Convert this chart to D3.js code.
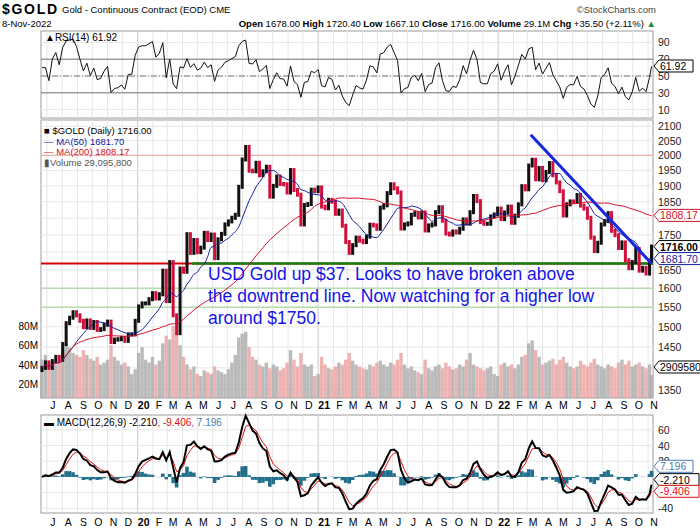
<!DOCTYPE html>
<html><head><meta charset="utf-8">
<script src="https://cdn.jsdelivr.net/npm/d3@7"></script>
<style>
body{margin:0;background:#fff;font-family:Arial,"Liberation Sans",sans-serif}
text{font-family:Arial,"Liberation Sans",sans-serif}
</style></head><body><div id="chart"></div>
<script>
// weekly closes (continuous contract), from 21-Jun-2019, last one 8-Nov-2022
var close2019=[1400,1413,1400,1416,1426,1419,1457,1509,1523,1537,1529,1515,1499,1516,1497,1512,1492,1494,1505,1513,1462,1468,1469,1472,1465,1481,1481,1515];
var close2020=[1552,1560,1560,1571,1587,1573,1584,1648,1566,1672,1529,1484,1654,1645,1752,1698,1735,1700,1713,1756,1735,1751,1683,1737,1753,1781,1790,1801,1810,1897,1986,2028,1949,1947,1975,1934,1947,1962,1866,1900,1930,1906,1905,1879,1951,1887,1872,1781,1840,1843,1888,1883];
var close2021=[1895,1835,1830,1856,1850,1813,1823,1777,1729,1698,1720,1742,1733,1729,1745,1780,1778,1768,1832,1839,1877,1905,1892,1879,1769,1781,1784,1810,1815,1802,1817,1763,1778,1781,1818,1833,1792,1754,1751,1760,1757,1768,1796,1783,1818,1868,1852,1788,1783,1783,1805,1811,1829];
var close2022=[1797,1817,1835,1786,1807,1842,1899,1889,1966,1985,1921,1958,1918,1945,1974,1934,1911,1883,1808,1842,1851,1850,1871,1838,1829,1801,1742,1703,1727,1781,1791,1815,1762,1749,1712,1728,1677,1655,1672,1709,1648,1656,1640,1676,1716];
// weekly volume, millions
var vol2019=[45,50,42,38,40,44,55,62,58,52,50,48,55,50,46,44,48,40,42,45,60,48,44,40,42,38,30,35];
var vol2020=[52,58,45,42,48,40,44,62,70,66,80,72,60,48,40,35,38,30,28,34,32,30,38,34,32,30,35,42,50,68,72,74,58,48,45,40,38,42,36,40,38,34,36,42,55,45,38,52,40,38,40,28];
var vol2021=[30,48,40,36,35,38,42,40,45,52,44,40,38,36,35,40,38,42,44,40,38,42,40,45,52,40,36,38,34,32,30,45,36,34,38,40,36,42,38,35,36,40,38,45,52,40,38,36,34,36,38,30,28];
var vol2022=[40,42,38,40,36,40,48,50,62,65,55,48,40,42,44,46,40,45,48,42,38,36,38,44,40,38,42,46,40,38,36,40,38,36,42,45,40,44,38,40,42,38,36,40,29];
var priceTicks=[1350,1400,1450,1500,1550,1600,1650,1700,1750,1800,1850,1900,1950,2000,2050,2100];
var rsiTicks=[10,30,50,70,90];
var macdTicks=[-40,-20,20,40,60];
var volTicks=[20,40,60,80];
var trendLine=[{d:"2022-03-08",p:2070},{d:"2022-11-08",p:1668}];
var note=["USD Gold up $37. Looks to have broken above","the downtrend line. Now watching for a higher low","around $1750."];

var closes=close2019.concat(close2020,close2021,close2022);
var vols=vol2019.concat(vol2020,vol2021,vol2022);
var start=new Date(2019,5,21);
var n=closes.length;
var data=closes.map(function(c,i){
  return {date:i==n-1?new Date(2022,10,8):d3.timeDay.offset(start,7*i),
    open:i?closes[i-1]:1395,close:c,vol:vols[i]};
});
function sma(k){return closes.map(function(c,i){var s=closes.slice(Math.max(0,i-k+1),i+1);return d3.mean(s);});}
function ema(arr,k){var a=2/(k+1),e=arr[0];return arr.map(function(v){e=a*v+(1-a)*e;return e;});}
var ma50=sma(10),ma200=sma(40);
// rsi on weekly bars
var rsi=[],g=0,l=0;
closes.forEach(function(c,i){
  var ch=i?c-closes[i-1]:0,a=1/5;
  g=(1-a)*g+a*Math.max(ch,0);l=(1-a)*l+a*Math.max(-ch,0);
  rsi.push(i<2?60:100-100/(1+g/(l||1e-6)));
});
var e1=ema(closes,5),e2=ema(closes,11);
var macd=e1.map(function(v,i){return v-e2[i];});
var sig=ema(macd,3);

var W=700,H=530,L=41,R=653;
var svg=d3.select('#chart').append('svg').attr('width',W).attr('height',H);
var x=d3.scaleTime().domain([new Date(2019,5,19),new Date(2022,10,11)]).range([L,R]);
var months=d3.timeMonth.range(new Date(2019,6,1),new Date(2022,10,2));

function panel(t,b){
  svg.append('rect').attr('x',L).attr('y',t).attr('width',R-L).attr('height',b-t)
    .attr('fill','#fff').attr('stroke','#999');
  svg.append('g').selectAll('line').data(months).enter().append('line')
    .attr('x1',function(d){return x(d)}).attr('x2',function(d){return x(d)})
    .attr('y1',t).attr('y2',b).attr('stroke',function(d){return d.getMonth()==0?'#c8c8c8':'#e6e6e6'});
}
function hgrid(ticks,sc){
  ticks.forEach(function(t){
    svg.append('line').attr('x1',L).attr('x2',R).attr('y1',sc(t)).attr('y2',sc(t)).attr('stroke','#e6e6e6');
    svg.append('text').attr('x',R+5).attr('y',sc(t)+4).attr('font-size',10.5).attr('fill','#222').text(t);
  });
}
function tag(yy,txt,col,bold){
  var gg=svg.append('g');
  var w=txt.length*6+4;
  gg.append('path').attr('d','M'+(R+1)+','+yy+' l5,-6 h'+w+' v12 h-'+w+' z').attr('fill','#fff').attr('stroke',col);
  gg.append('text').attr('x',R+7).attr('y',yy+4).attr('font-size',10.5).attr('fill',col)
    .attr('font-weight',bold?'bold':'normal').text(txt);
}
function monthAxis(yy){
  svg.append('g').selectAll('text').data(months).enter().append('text')
    .attr('x',function(d){return x(d)+6}).attr('y',yy).attr('text-anchor','middle')
    .attr('font-size',10.5).attr('font-weight',function(d){return d.getMonth()==0?'bold':'normal'})
    .text(function(d){return d.getMonth()==0?d3.timeFormat('%y')(d):d3.timeFormat('%b')(d)[0];});
}

// header
svg.append('text').attr('x',2).attr('y',14).attr('font-size',14).attr('font-weight','bold').attr('textLength',55).text('$GOLD');
svg.append('text').attr('x',62).attr('y',13).attr('font-size',9.5).text('Gold - Continuous Contract (EOD) CME');
svg.append('text').attr('x',656).attr('y',13).attr('font-size',9.5).attr('text-anchor','end').attr('fill','#444').text('©StockCharts.com');
svg.append('text').attr('x',2).attr('y',27).attr('font-size',9.5).text('8-Nov-2022');
var hd=svg.append('text').attr('x',656).attr('y',27).attr('font-size',9.5).attr('text-anchor','end');
[['Open',' 1678.00 '],['High',' 1720.40 '],['Low',' 1667.10 '],['Close',' 1716.00 '],['Volume',' 29.1M '],['Chg',' +35.50 (+2.11%) ']].forEach(function(p){
  hd.append('tspan').attr('font-weight','bold').text(p[0]);hd.append('tspan').attr('xml:space','preserve').text(p[1]);
});
hd.append('tspan').attr('fill','#2a8a2a').text('▲');

// RSI panel
var yr=d3.scaleLinear().domain([0,100]).range([118,34]);
panel(31,118);
hgrid(rsiTicks,yr);
svg.append('line').attr('x1',L).attr('x2',R).attr('y1',yr(70)).attr('y2',yr(70)).attr('stroke','#777');
svg.append('line').attr('x1',L).attr('x2',R).attr('y1',yr(30)).attr('y2',yr(30)).attr('stroke','#777');
svg.append('line').attr('x1',L).attr('x2',R).attr('y1',yr(50)).attr('y2',yr(50)).attr('stroke','#777').attr('stroke-dasharray','6,2,1,2');
svg.append('path').datum(rsi).attr('fill','none').attr('stroke','#111').attr('stroke-width',1)
  .attr('d',d3.line().x(function(d,i){return x(data[i].date)}).y(function(d){return yr(d)}));
svg.append('text').attr('x',45).attr('y',41).attr('font-size',10).text('▲RSI(14) 61.92');
tag(yr(61.92),'61.92','#000');

// main panel
var pTop=120,pBot=398;
var y=d3.scaleLog().domain([1331,2122]).range([pBot,pTop]);
panel(pTop,pBot);
hgrid(priceTicks,y);
var yv=d3.scaleLinear().domain([0,80]).range([403,326]);
svg.append('g').selectAll('rect').data(data).enter().append('rect')
  .attr('x',function(d){return x(d.date)-1.7}).attr('width',3.4)
  .attr('y',function(d){return yv(d.vol)}).attr('height',function(d){return pBot-yv(d.vol)})
  .attr('fill',function(d){return d.close>=d.open?'#aaa':'#e8a0a0'}).attr('opacity',0.8);
volTicks.forEach(function(t){svg.append('text').attr('x',38).attr('y',yv(t)+4).attr('text-anchor','end').attr('font-size',10).text(t+'M');});
// horizontal levels
[[2000,'#f0a0a0',1],[1600,'#b7dcb0',1.5],[1550,'#b7dcb0',1.5]].forEach(function(h){
  svg.append('line').attr('x1',L).attr('x2',R).attr('y1',y(h[0])).attr('y2',y(h[0])).attr('stroke',h[1]).attr('stroke-width',h[2]);
});
svg.append('line').attr('x1',L).attr('x2',R).attr('y1',y(1668)).attr('y2',y(1668)).attr('stroke','#d40000').attr('stroke-width',2);
svg.append('line').attr('x1',x(new Date(2020,3,20))).attr('x2',R).attr('y1',y(1668)).attr('y2',y(1668)).attr('stroke','#158015').attr('stroke-width',2.5);
// price bars
svg.append('g').selectAll('rect').data(data).enter().append('rect')
  .attr('x',function(d){return x(d.date)-1.5}).attr('width',3)
  .attr('y',function(d){return y(Math.max(d.open,d.close))-2})
  .attr('height',function(d){return Math.abs(y(d.open)-y(d.close))+4})
  .attr('fill',function(d){return d.close>=d.open?'#111':'#d0103a'});
var lx=function(d,i){return x(data[i].date)};
svg.append('path').datum(ma50).attr('fill','none').attr('stroke','#1020a0').attr('stroke-width',1)
  .attr('d',d3.line().x(lx).y(function(d){return y(d)}).curve(d3.curveMonotoneX));
svg.append('path').datum(ma200).attr('fill','none').attr('stroke','#d4102a').attr('stroke-width',1)
  .attr('d',d3.line().x(lx).y(function(d){return y(d)}).curve(d3.curveMonotoneX));
svg.append('line').attr('x1',x(new Date(trendLine[0].d))).attr('y1',y(trendLine[0].p))
  .attr('x2',x(new Date(trendLine[1].d))).attr('y2',y(trendLine[1].p)).attr('stroke','#1428e0').attr('stroke-width',3);
note.forEach(function(t,i){
  svg.append('text').attr('x',208).attr('y',280+i*22).attr('font-size',17.5).attr('fill','#1414e6').text(t);
});
// legend
var lg=[['■ $GOLD (Daily) 1716.00','#000'],['— MA(50) 1681.70','#1020a0'],['— MA(200) 1808.17','#d4102a'],['▮Volume 29,095,800','#555']];
lg.forEach(function(t,i){svg.append('text').attr('x',44).attr('y',134+i*10.5).attr('font-size',9.5).attr('fill',t[1]).text(t[0]);});
tag(y(1808.17),'1808.17','#d4102a');
tag(y(1716),'1716.00','#000',true);
tag(y(1681.7),'1681.70','#1020a0');
tag(yv(29.1)-8,'2909580','#000');
monthAxis(409);

// MACD panel
var ym=d3.scaleLinear().domain([-46,79]).range([513,415]);
panel(415,513);
hgrid(macdTicks,ym);
svg.append('g').selectAll('rect').data(macd).enter().append('rect')
  .attr('x',function(d,i){return x(data[i].date)-1.8}).attr('width',3.6)
  .attr('y',function(d,i){return ym(Math.max(0,d-sig[i]))})
  .attr('height',function(d,i){return Math.abs(ym(d-sig[i])-ym(0))})
  .attr('fill','#23708e');
svg.append('path').datum(sig).attr('fill','none').attr('stroke','#e01010').attr('stroke-width',1)
  .attr('d',d3.line().x(lx).y(function(d){return ym(d)}));
svg.append('path').datum(macd).attr('fill','none').attr('stroke','#000').attr('stroke-width',2)
  .attr('d',d3.line().x(lx).y(function(d){return ym(d)}));
var mt=svg.append('text').attr('x',44).attr('y',426).attr('font-size',10);
mt.append('tspan').text('▬ MACD(12,26,9) -2.210');mt.append('tspan').attr('fill','#e01010').text(', -9.406');mt.append('tspan').attr('fill','#4a7ab8').text(', 7.196');
tag(ym(7.196)-5,'7.196','#4a7ab8');
tag(ym(-2.21)+1,'-2.210','#000');
tag(ym(-9.406)+7,'-9.406','#e01010');
monthAxis(526);
</script></body></html>
